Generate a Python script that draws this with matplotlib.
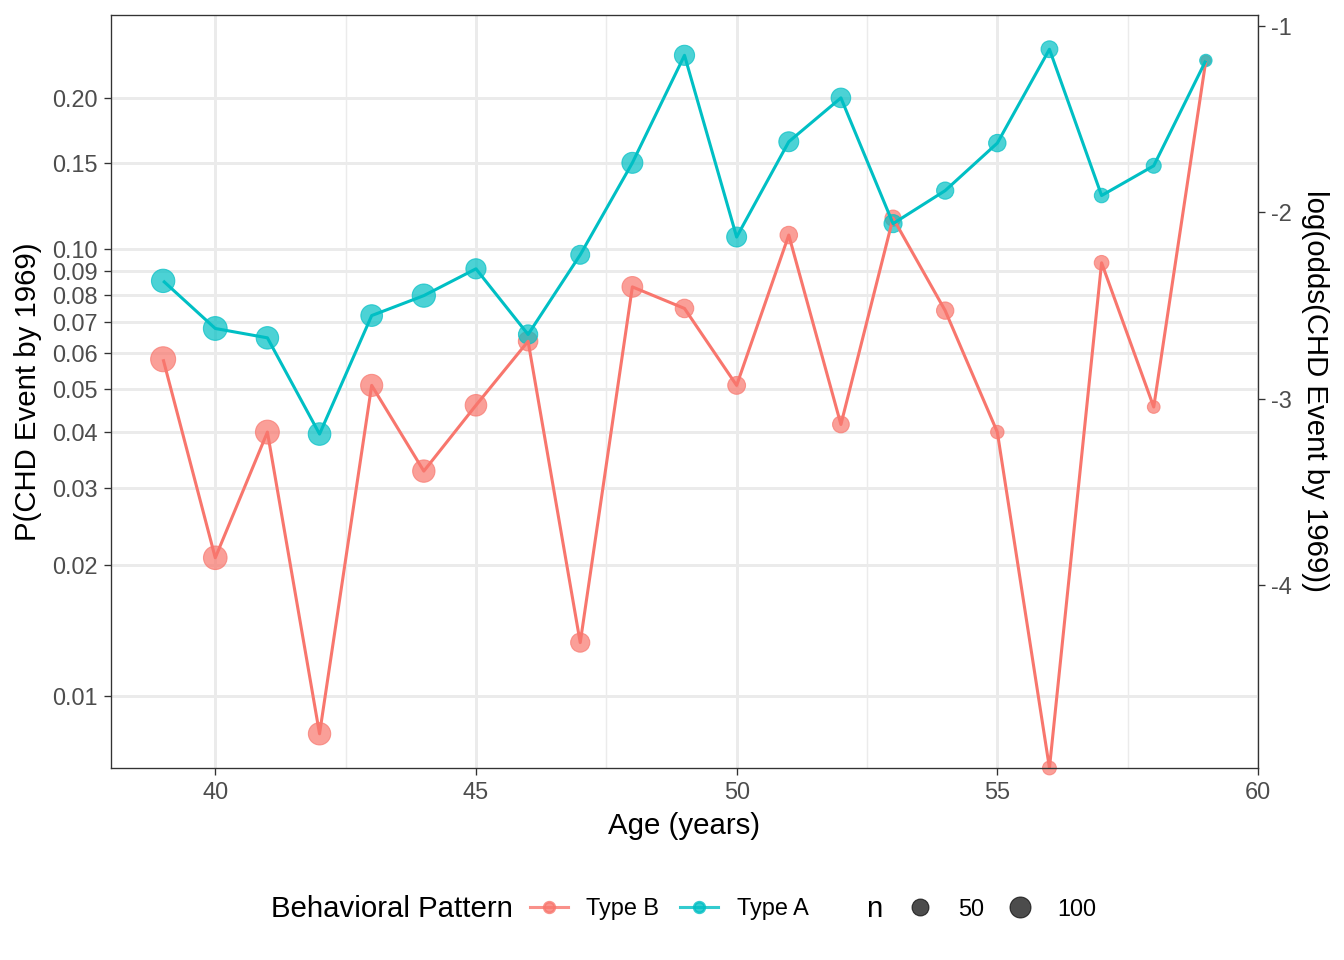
import numpy as np
import matplotlib
matplotlib.use("Agg")
import matplotlib.pyplot as plt
from matplotlib.lines import Line2D

plt.rcParams['font.family'] = ['Liberation Sans', 'DejaVu Sans']

# データ
ages = list(range(39, 60))
p_typeB = [0.058, 0.0208, 0.040, 0.0082, 0.0508, 0.0327, 0.0459, 0.0635, 0.0133, 0.0832, 0.0748,
           0.0508, 0.107, 0.0416, 0.116, 0.074, 0.040, 0.0, 0.0936, 0.0455, 0.234]
p_typeA = [0.0857, 0.0677, 0.0646, 0.0396, 0.0722, 0.0797, 0.0909, 0.0657, 0.0973, 0.150, 0.239,
           0.106, 0.165, 0.200, 0.113, 0.132, 0.164, 0.245, 0.129, 0.148, 0.234]
n_typeB = [172, 144, 150, 122, 118, 122, 109, 79, 75, 96, 67,
           59, 56, 48, 43, 54, 25, 27, 32, 22, 17]
n_typeA = [140, 148, 124, 126, 111, 138, 88, 76, 72, 100, 88,
           85, 85, 80, 62, 53, 55, 49, 31, 34, 21]

p_breaks = [0.01, 0.02, 0.03, 0.04, 0.05, 0.06, 0.07, 0.08, 0.09, 0.10, 0.15, 0.20]
p_labels = ["0.01", "0.02", "0.03", "0.04", "0.05", "0.06", "0.07", "0.08", "0.09", "0.10", "0.15", "0.20"]
lo_breaks = [-1, -2, -3, -4]
n_breaks = [50, 100]

col_B = "#F8766D"
col_A = "#00BFC4"

n_all = np.array(n_typeB + n_typeA, dtype=float)
n_min, n_max = n_all.min(), n_all.max()


def logit(p):
    p = np.asarray(p, dtype=float)
    with np.errstate(divide='ignore'):
        return np.log(p / (1 - p))


def msize(n):
    # ggplot の scale_size 風: 直径 = 最小 + 幅 * sqrt(rescale(n))  (px -> pt)
    t = (np.asarray(n, dtype=float) - n_min) / (n_max - n_min)
    d = 10 + 15 * np.sqrt(np.clip(t, 0, 1))
    return d * 72 / 192


fig = plt.figure(figsize=(7, 5), dpi=192)
ax = fig.add_axes([111 / 1344, 1 - 768 / 960, (1258 - 111) / 1344, (768 - 15) / 960])

# y の範囲（有限値のみ、5% 拡張）
all_lo = np.concatenate([logit(p_typeB), logit(p_typeA)])
fin = all_lo[np.isfinite(all_lo)]
rng = fin.max() - fin.min()
ylo, yhi = fin.min() - 0.05 * rng, fin.max() + 0.05 * rng

for p, n, c in [(p_typeB, n_typeB, col_B), (p_typeA, n_typeA, col_A)]:
    y = logit(p)
    y = np.where(np.isfinite(y), y, ylo)
    ax.scatter(ages, y, s=msize(n) ** 2, color=c, alpha=0.7, edgecolors=c, linewidths=0.4,
               zorder=3, clip_on=False)
    ax.plot(ages, y, color=c, lw=1.15, zorder=4, solid_capstyle='butt')

ax.set_xlim(38, 60)
ax.set_ylim(ylo, yhi)

# グリッド
ax.set_xticks([40, 45, 50, 55, 60])
ax.set_xticks([42.5, 47.5, 52.5, 57.5], minor=True)
ax.set_yticks(logit(p_breaks))
ax.set_yticklabels(p_labels)
ax.grid(True, which='major', color='#EBEBEB', lw=1.1, zorder=0)
ax.grid(True, which='minor', axis='x', color='#EBEBEB', lw=0.55, zorder=0)
ax.set_axisbelow(True)

ax.tick_params(axis='both', which='major', length=2.75, width=0.5, color='#333333',
               labelsize=8.8, labelcolor='#4D4D4D', pad=2.2)
ax.tick_params(axis='x', which='minor', length=0)
for s in ax.spines.values():
    s.set_color('#333333')
    s.set_linewidth(0.5)
    s.set_zorder(5)

ax.set_xlabel("Age (years)", fontsize=11, labelpad=3)
ax.set_ylabel("P(CHD Event by 1969)", fontsize=11, labelpad=4)

# 右軸 log-odds
ax2 = ax.twinx()
ax2.set_ylim(ylo, yhi)
ax2.set_yticks(lo_breaks)
ax2.set_yticklabels([str(v) for v in lo_breaks])
ax2.tick_params(axis='y', length=2.75, width=0.5, color='#333333',
                labelsize=8.8, labelcolor='#4D4D4D', pad=2.2)
for s in ax2.spines.values():
    s.set_visible(False)
ax2.set_ylabel("log(odds(CHD Event by 1969))", fontsize=11, rotation=-90, labelpad=14)

# 凡例
ly = 1 - 909 / 960
fig.text(271 / 1344, ly, "Behavioral Pattern", fontsize=11, va='center', ha='left')
h1 = [Line2D([], [], color=col_B, lw=1.15, marker='o', ms=4.0, alpha=0.8),
      Line2D([], [], color=col_A, lw=1.15, marker='o', ms=4.0, alpha=0.8)]
fig.legend(h1, ["Type B", "Type A"], loc='center left', bbox_to_anchor=(530 / 1344, ly),
           ncol=2, frameon=False, fontsize=8.8, handlelength=1.6, handletextpad=0.8,
           columnspacing=0.9, borderpad=0, borderaxespad=0)
fig.text(866 / 1344, ly, "n", fontsize=11, va='center', ha='left')
h2 = [Line2D([], [], color='black', lw=0, marker='o', ms=msize(v), alpha=0.7,
             markeredgewidth=0.4) for v in n_breaks]
fig.legend(h2, [str(v) for v in n_breaks], loc='center left', bbox_to_anchor=(906 / 1344, ly),
           ncol=2, frameon=False, fontsize=8.8, handlelength=1.2, handletextpad=1.0,
           columnspacing=0.95, borderpad=0, borderaxespad=0)

fig.savefig("out.png", dpi=192)
